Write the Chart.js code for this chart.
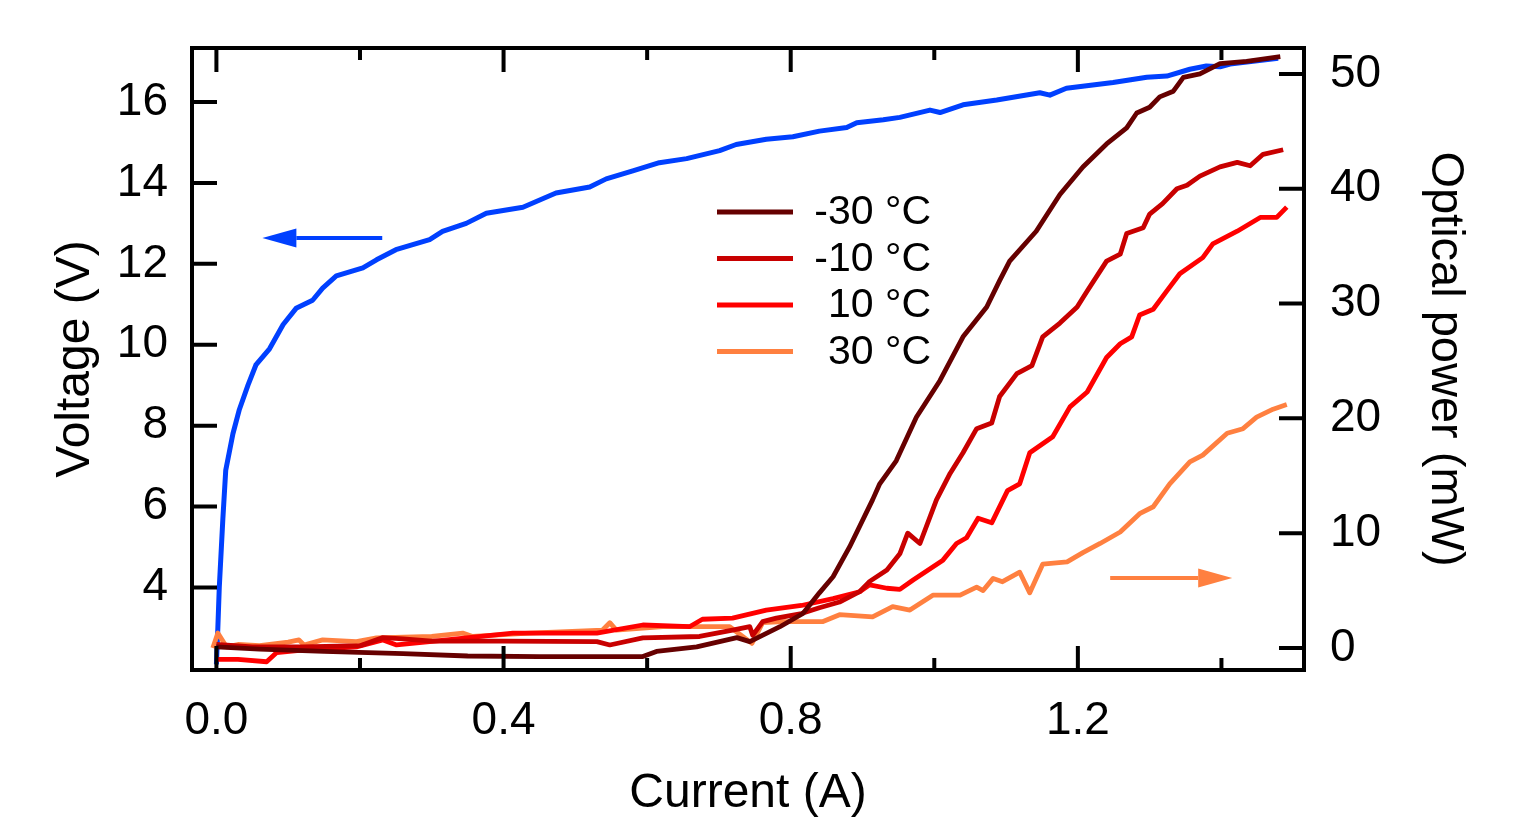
<!DOCTYPE html>
<html>
<head>
<meta charset="utf-8">
<script src="https://cdn.jsdelivr.net/npm/chart.js@4.4.1/dist/chart.umd.min.js"></script>
<style>
  html, body { margin: 0; padding: 0; background: #fff; }
  canvas { display: block; }
</style>
</head>
<body>
<canvas id="grafico" width="1534" height="818" style="width:1534px;height:818px"></canvas>
<script>
// voltage curve (left axis)
const voltI = [0.000, 0.002, 0.004, 0.009, 0.013, 0.023, 0.032, 0.044, 0.055, 0.074, 0.093, 0.111, 0.134, 0.148, 0.167, 0.204, 0.223, 0.250, 0.297, 0.315, 0.348, 0.376, 0.427, 0.473, 0.520, 0.543, 0.580, 0.617, 0.655, 0.701, 0.724, 0.766, 0.803, 0.840, 0.878, 0.892, 0.929, 0.952, 0.994, 1.008, 1.040, 1.087, 1.147, 1.161, 1.184, 1.249, 1.296, 1.324, 1.356, 1.379, 1.398, 1.412, 1.479];
const voltV = [2.1, 3.0, 4.0, 5.7, 6.9, 7.8, 8.4, 9.0, 9.5, 9.9, 10.5, 10.9, 11.1, 11.4, 11.7, 11.9, 12.1, 12.35, 12.6, 12.8, 13.0, 13.25, 13.4, 13.75, 13.9, 14.1, 14.3, 14.5, 14.6, 14.8, 14.95, 15.08, 15.14, 15.28, 15.37, 15.49, 15.56, 15.62, 15.8, 15.74, 15.93, 16.05, 16.23, 16.17, 16.34, 16.48, 16.61, 16.64, 16.81, 16.89, 16.87, 16.94, 17.08];

// optical power curves (right axis)
const m30I = [0.000, 0.060, 0.150, 0.260, 0.350, 0.450, 0.594, 0.613, 0.669, 0.725, 0.743, 0.785, 0.817, 0.840, 0.859, 0.882, 0.914, 0.924, 0.947, 0.975, 1.008, 1.040, 1.073, 1.091, 1.105, 1.142, 1.175, 1.207, 1.240, 1.268, 1.282, 1.300, 1.314, 1.333, 1.347, 1.370, 1.398, 1.435, 1.482];
const m30P = [0.1, -0.1, -0.3, -0.5, -0.7, -0.75, -0.75, -0.3, 0.1, 0.9, 0.55, 1.85, 3.0, 4.8, 6.2, 8.8, 12.9, 14.3, 16.3, 20.1, 23.3, 27.1, 29.7, 32.0, 33.7, 36.3, 39.5, 41.9, 43.9, 45.3, 46.6, 47.1, 48.0, 48.5, 49.7, 50.0, 50.9, 51.1, 51.5];

const m10I = [0.000, 0.050, 0.120, 0.200, 0.232, 0.260, 0.300, 0.400, 0.530, 0.548, 0.594, 0.673, 0.719, 0.743, 0.747, 0.761, 0.780, 0.815, 0.840, 0.868, 0.896, 0.910, 0.934, 0.952, 0.963, 0.980, 1.003, 1.022, 1.040, 1.059, 1.080, 1.091, 1.115, 1.136, 1.151, 1.175, 1.199, 1.213, 1.240, 1.259, 1.268, 1.291, 1.300, 1.318, 1.338, 1.352, 1.370, 1.398, 1.422, 1.440, 1.458, 1.486];
const m10P = [0.3, 0.1, 0.1, 0.2, 0.9, 0.8, 0.6, 0.6, 0.55, 0.26, 0.87, 1.0, 1.56, 1.85, 1.1, 2.3, 2.6, 3.0, 3.5, 4.0, 4.9, 5.8, 6.8, 8.2, 10.0, 9.1, 12.9, 15.2, 17.0, 19.1, 19.6, 21.9, 23.9, 24.6, 27.1, 28.3, 29.7, 31.1, 33.7, 34.3, 36.1, 36.6, 37.8, 38.7, 40.0, 40.3, 41.1, 41.9, 42.3, 42.0, 43.0, 43.4];

const p10I = [0.000, 0.030, 0.070, 0.084, 0.116, 0.195, 0.232, 0.251, 0.297, 0.413, 0.530, 0.594, 0.659, 0.677, 0.719, 0.766, 0.815, 0.859, 0.896, 0.910, 0.934, 0.952, 0.970, 1.012, 1.031, 1.045, 1.061, 1.080, 1.102, 1.119, 1.133, 1.165, 1.189, 1.213, 1.240, 1.259, 1.275, 1.286, 1.305, 1.324, 1.342, 1.374, 1.388, 1.422, 1.454, 1.477, 1.491];
const p10P = [-1.0, -1.0, -1.2, -0.4, -0.2, 0.1, 0.7, 0.26, 0.55, 1.3, 1.3, 2.0, 1.85, 2.5, 2.6, 3.3, 3.7, 4.3, 4.9, 5.5, 5.2, 5.1, 5.9, 7.65, 9.1, 9.6, 11.3, 10.9, 13.7, 14.3, 17.0, 18.4, 21.0, 22.3, 25.3, 26.5, 27.1, 29.0, 29.5, 31.1, 32.6, 34.0, 35.2, 36.3, 37.5, 37.5, 38.4];

const p30I = [-0.005, 0.002, 0.014, 0.030, 0.060, 0.100, 0.115, 0.122, 0.148, 0.195, 0.223, 0.300, 0.343, 0.357, 0.436, 0.538, 0.548, 0.557, 0.622, 0.715, 0.746, 0.761, 0.789, 0.845, 0.868, 0.914, 0.942, 0.966, 0.998, 1.036, 1.059, 1.068, 1.082, 1.095, 1.119, 1.133, 1.151, 1.185, 1.207, 1.231, 1.259, 1.286, 1.305, 1.328, 1.356, 1.374, 1.408, 1.430, 1.449, 1.472, 1.491];
const p30P = [0.0, 1.3, 0.1, 0.3, 0.2, 0.5, 0.7, 0.26, 0.7, 0.55, 0.87, 1.0, 1.3, 1.0, 1.3, 1.56, 2.2, 1.56, 1.85, 1.85, 0.4, 2.2, 2.3, 2.3, 2.9, 2.7, 3.6, 3.3, 4.6, 4.6, 5.3, 5.0, 6.06, 5.77, 6.6, 4.8, 7.3, 7.5, 8.3, 9.1, 10.1, 11.7, 12.3, 14.3, 16.2, 16.8, 18.7, 19.1, 20.1, 20.8, 21.2];

const tempLabels = ['-30 °C', '-10 °C', '10 °C', '30 °C'];

// ticks
const xTickValues = [0, 0.2, 0.4, 0.6, 0.8, 1.0, 1.2, 1.4];
const xTickLabels = ['0.0', '', '0.4', '', '0.8', '', '1.2', ''];
const vTickValues = [4, 6, 8, 10, 12, 14, 16];
const pTickValues = [0, 10, 20, 30, 40, 50];

// arrows pointing to each axis
const voltArrowI = [0.231, 0.064];
const voltArrowV = 12.64;
const powArrowI = [1.245, 1.415];
const powArrowP = 6.09;

function pts(xs, ys) {
  return xs.map((x, i) => ({ x: x, y: ys[i] }));
}

Chart.defaults.font.family = '"Liberation Sans", Arial, sans-serif';
Chart.defaults.color = '#000';

const moldura = {
  id: 'moldura',
  afterDatasetsDraw(chart) {
    const { ctx, chartArea: a, scales } = chart;
    ctx.save();
    ctx.strokeStyle = '#000';
    ctx.lineWidth = 4;
    ctx.beginPath();
    scales.x.ticks.forEach((t, i) => {
      const px = scales.x.getPixelForValue(t.value);
      const len = xTickLabels[i] ? 24 : 12;
      ctx.moveTo(px, a.bottom); ctx.lineTo(px, a.bottom - len);
      ctx.moveTo(px, a.top); ctx.lineTo(px, a.top + len);
    });
    scales.yV.ticks.forEach(t => {
      const py = scales.yV.getPixelForValue(t.value);
      ctx.moveTo(a.left, py); ctx.lineTo(a.left + 25, py);
    });
    scales.yP.ticks.forEach(t => {
      const py = scales.yP.getPixelForValue(t.value);
      ctx.moveTo(a.right, py); ctx.lineTo(a.right - 25, py);
    });
    ctx.stroke();
    ctx.strokeRect(a.left, a.top, a.right - a.left, a.bottom - a.top);

    // arrows
    function seta(x0, x1, y, cor) {
      const dir = Math.sign(x1 - x0);
      const base = x1 - dir * 34;
      ctx.strokeStyle = cor;
      ctx.fillStyle = cor;
      ctx.lineWidth = 4;
      ctx.beginPath();
      ctx.moveTo(x0, y); ctx.lineTo(base, y);
      ctx.stroke();
      ctx.beginPath();
      ctx.moveTo(x1, y);
      ctx.lineTo(base, y - 9.5);
      ctx.lineTo(base, y + 9.5);
      ctx.closePath();
      ctx.fill();
    }
    seta(scales.x.getPixelForValue(voltArrowI[0]), scales.x.getPixelForValue(voltArrowI[1]),
         scales.yV.getPixelForValue(voltArrowV), '#0040ff');
    seta(scales.x.getPixelForValue(powArrowI[0]), scales.x.getPixelForValue(powArrowI[1]),
         scales.yP.getPixelForValue(powArrowP), '#ff8040');

    // legend
    const itens = chart.data.datasets.filter(d => d.yAxisID === 'yP');
    ctx.font = '41px "Liberation Sans", Arial, sans-serif';
    ctx.textAlign = 'right';
    ctx.textBaseline = 'middle';
    itens.forEach((d, i) => {
      const y = 212 + i * 46.5;
      ctx.strokeStyle = d.borderColor;
      ctx.lineWidth = 5;
      ctx.beginPath();
      ctx.moveTo(717, y); ctx.lineTo(793, y);
      ctx.stroke();
      ctx.fillStyle = '#000';
      ctx.fillText(d.label, 931, y + 1);
    });
    ctx.restore();
  }
};

const linha = { showLine: true, pointRadius: 0, borderWidth: 4.8, tension: 0, fill: false, borderJoinStyle: 'round' };

const ctx = document.getElementById('grafico').getContext('2d');
window.meuGrafico = new Chart(ctx, {
  type: 'scatter',
  data: {
    datasets: [
      { ...linha, label: tempLabels[0], data: pts(m30I, m30P), borderColor: '#660000', yAxisID: 'yP' },
      { ...linha, label: tempLabels[1], data: pts(m10I, m10P), borderColor: '#c80000', yAxisID: 'yP' },
      { ...linha, label: tempLabels[2], data: pts(p10I, p10P), borderColor: '#ff0000', yAxisID: 'yP' },
      { ...linha, label: tempLabels[3], data: pts(p30I, p30P), borderColor: '#ff8040', yAxisID: 'yP' },
      { ...linha, label: 'Voltage', data: pts(voltI, voltV), borderColor: '#0040ff', borderWidth: 5, yAxisID: 'yV' }
    ]
  },
  options: {
    responsive: false,
    animation: false,
    devicePixelRatio: 1,
    layout: { padding: { top: 48, left: 0, right: 0, bottom: 0 } },
    plugins: { legend: { display: false }, tooltip: { enabled: false } },
    scales: {
      x: {
        type: 'linear',
        position: 'bottom',
        min: -0.034,
        max: 1.515,
        afterBuildTicks: s => { s.ticks = xTickValues.map(v => ({ value: v })); },
        afterFit: s => { s.height = 148; },
        grid: { display: false },
        border: { display: false },
        ticks: {
          font: { size: 46, lineHeight: 1.2 },
          padding: 16,
          maxRotation: 0,
          autoSkip: false,
          callback: (v, i) => xTickLabels[i]
        },
        title: {
          display: true,
          text: 'Current (A)',
          font: { size: 48, lineHeight: 1 },
          padding: { top: 0, bottom: 0 }
        }
      },
      yV: {
        type: 'linear',
        position: 'left',
        min: 1.96,
        max: 17.335,
        afterBuildTicks: s => { s.ticks = vTickValues.map(v => ({ value: v })); },
        afterFit: s => { s.width = 192; },
        grid: { display: false },
        border: { display: false },
        ticks: { font: { size: 46 }, padding: 16, callback: v => String(v) },
        title: {
          display: true,
          text: 'Voltage (V)',
          font: { size: 48, lineHeight: 1 },
          padding: { top: 52, bottom: 0 }
        }
      },
      yP: {
        type: 'linear',
        position: 'right',
        min: -1.92,
        max: 52.26,
        afterBuildTicks: s => { s.ticks = pTickValues.map(v => ({ value: v })); },
        afterFit: s => { s.width = 230; },
        grid: { display: false },
        border: { display: false },
        ticks: { font: { size: 46 }, padding: 18, callback: v => String(v) },
        title: {
          display: true,
          text: 'Optical power (mW)',
          font: { size: 47, lineHeight: 1 },
          padding: { top: 66, bottom: 0 }
        }
      }
    }
  },
  plugins: [moldura]
});
</script>
</body>
</html>
